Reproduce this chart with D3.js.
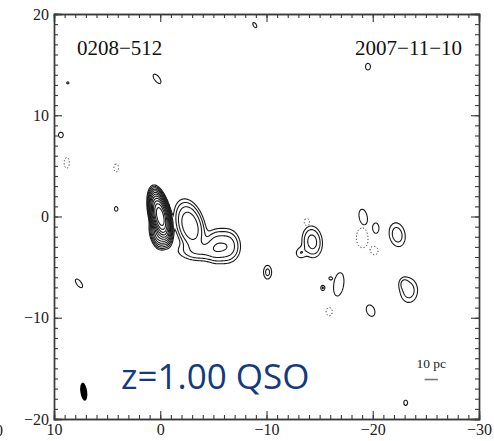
<!DOCTYPE html>
<html>
<head>
<meta charset="utf-8">
<script src="https://cdn.jsdelivr.net/npm/d3@7"></script>
<style>
  body { margin: 0; background: #fff; }
  svg { display: block; }
</style>
</head>
<body>
<svg id="chart" width="494" height="441"></svg>
<script>
// relative RA / Dec (mas), east to the left
const xDomain = [10, -30];
const yDomain = [20, -20];
const xTickLabels = [10, 0, -10, -20, -30];
const yTickLabels = [20, 10, 0, -10, -20];

// gaussian components: offset x, offset y, peak (in units of lowest contour),
// sigma along major, sigma along minor, position angle (deg, north through east)
const compX    = [0.0, 0.15, -2.8, -3.9, -5.3, -6.4, -14.3, -13.2, -22.3, -19.1, -20.3, -10.1, -16.0, -15.3, -16.8, -19.8, -23.4, -22.9, -23.1, -8.9, -19.55, 0.3, 8.7, 9.35, 4.15, 7.65];
const compY    = [0.0, -1.6, -0.9, -3.4, -2.9, -2.9, -2.5, -3.6, -1.8, -0.05, -1.15, -5.5, -6.1, -7.05, -6.7, -9.3, -7.3, -6.6, -18.4, 18.9, 14.8, 13.6, 13.2, 8.05, 0.75, -6.6];
const compPeak = [4000, 60, 16, 4, 6, 6, 5.5, 1.8, 3, 1.6, 1.5, 2.5, 1.2, 2.2, 1.6, 1.6, 3, 1.6, 1.4, 1.3, 1.4, 1.5, 1.3, 1.5, 1.4, 1.5];
const compMaj  = [0.78, 0.6, 1.15, 1.3, 0.85, 0.85, 0.85, 0.4, 0.8, 0.8, 0.55, 0.5, 0.15, 0.2, 1.2, 0.6, 0.8, 0.4, 0.32, 0.4, 0.4, 0.6, 0.15, 0.3, 0.28, 0.55];
const compMin  = [0.27, 0.3, 0.6, 0.55, 0.6, 0.6, 0.52, 0.35, 0.5, 0.39, 0.31, 0.28, 0.15, 0.15, 0.48, 0.39, 0.55, 0.3, 0.22, 0.2, 0.28, 0.27, 0.15, 0.25, 0.2, 0.25];
const compPA   = [12, 10, 15, 90, 0, 0, 5, 0, 10, 10, 0, 0, 0, 0, -8, 20, 0, 0, 0, 30, 0, 35, 0, 0, 0, 35];

// negative (dotted) features
const negX    = [-13.8, -19.0, -20.2, -15.9, 8.8, 4.15];
const negY    = [-0.55, -2.1, -3.4, -9.4, 5.3, 4.8];
const negPeak = [1.4, 1.6, 1.3, 1.4, 1.4, 1.3];
const negMaj  = [0.45, 1.0, 0.5, 0.5, 0.65, 0.55];
const negMin  = [0.3, 0.56, 0.4, 0.35, 0.3, 0.3];
const negPA   = [0, 0, 0, 0, 0, 0];

// contour levels, factor 2 apart
const levels = [1, 2, 4, 8, 16, 32, 64, 128, 256, 512, 1024, 2048, 4096];
const negLevels = [1];

// restoring beam (half axes, mas)
const beamX = [7.2], beamY = [-17.3], beamMaj = [0.9], beamMin = [0.32], beamPA = [8];

// 10 pc scale bar
const barX = [-25.5], barY = [-16.1], barLen = [1.25];

const width = 494, height = 441;
const margin = { top: 14, right: 15, bottom: 22, left: 54 };

const svg = d3.select('#chart');
const x = d3.scaleLinear().domain(xDomain).range([margin.left, width - margin.right]);
const y = d3.scaleLinear().domain(yDomain).range([margin.top, height - margin.bottom]);

// build the brightness grid
const step = 0.08;
const gx0 = -30.5, gy0 = -20.5;
const nx = Math.round(41 / step) + 1, ny = Math.round(41 / step) + 1;

function makeGrid(cx, cy, pk, smaj, smin, pa) {
    const grid = new Float64Array(nx * ny);
    cx.forEach((x0, k) => {
        const a = pa[k] * Math.PI / 180;
        const ux = Math.sin(a), uy = Math.cos(a);
        const r = 5 * Math.max(smaj[k], smin[k]);
        const i0 = Math.max(0, Math.floor((x0 - r - gx0) / step));
        const i1 = Math.min(nx - 1, Math.ceil((x0 + r - gx0) / step));
        const j0 = Math.max(0, Math.floor((cy[k] - r - gy0) / step));
        const j1 = Math.min(ny - 1, Math.ceil((cy[k] + r - gy0) / step));
        for (let j = j0; j <= j1; j++) {
            const dy = gy0 + j * step - cy[k];
            for (let i = i0; i <= i1; i++) {
                const dx = gx0 + i * step - x0;
                const p = dx * ux + dy * uy;
                const q = -dx * uy + dy * ux;
                grid[j * nx + i] += pk[k] * Math.exp(-0.5 * (p * p / (smaj[k] * smaj[k]) + q * q / (smin[k] * smin[k])));
            }
        }
    });
    return grid;
}

const posGrid = makeGrid(compX, compY, compPeak, compMaj, compMin, compPA);
const negGrid = makeGrid(negX, negY, negPeak, negMaj, negMin, negPA);

const toPixels = d3.geoTransform({
    point: function (gx, gy) {
        this.stream.point(x(gx0 + (gx - 0.5) * step), y(gy0 + (gy - 0.5) * step));
    }
});
const path = d3.geoPath(toPixels);

const frameLeft = x(xDomain[0]), frameRight = x(xDomain[1]);
const frameTop = y(yDomain[0]), frameBottom = y(yDomain[1]);

svg.append('clipPath').attr('id', 'frame')
    .append('rect')
    .attr('x', frameLeft).attr('y', frameTop)
    .attr('width', frameRight - frameLeft)
    .attr('height', frameBottom - frameTop);

const plot = svg.append('g').attr('clip-path', 'url(#frame)');

plot.selectAll('path.pos')
    .data(d3.contours().size([nx, ny]).thresholds(levels)(posGrid))
    .enter().append('path')
    .attr('class', 'pos')
    .attr('d', path)
    .attr('fill', 'none')
    .attr('stroke', '#1a1a1a')
    .attr('stroke-width', 1.1);

plot.selectAll('path.neg')
    .data(d3.contours().size([nx, ny]).thresholds(negLevels)(negGrid))
    .enter().append('path')
    .attr('class', 'neg')
    .attr('d', path)
    .attr('fill', 'none')
    .attr('stroke', '#333')
    .attr('stroke-width', 1)
    .attr('stroke-dasharray', '1.2,2');

// beam
plot.selectAll('ellipse.beam')
    .data(beamX)
    .enter().append('ellipse')
    .attr('class', 'beam')
    .attr('cx', d => x(d))
    .attr('cy', (d, i) => y(beamY[i]))
    .attr('rx', (d, i) => Math.abs(x(beamMin[i]) - x(0)))
    .attr('ry', (d, i) => Math.abs(y(beamMaj[i]) - y(0)))
    .attr('transform', (d, i) => `rotate(${-beamPA[i]},${x(d)},${y(beamY[i])})`)
    .attr('fill', '#000');

// axes: ticks pointing inward on all four sides
const minorX = d3.range(-30, 11, 1);
const minorY = d3.range(-20, 21, 1);
const axisFont = '"Liberation Serif", "DejaVu Serif", serif';

function styleAxis(g) {
    g.select('.domain').attr('stroke', '#3a3a3a').attr('stroke-width', 1.4);
    g.selectAll('.tick line').attr('stroke', '#3a3a3a').attr('stroke-width', 1.1);
    g.selectAll('text').attr('font-family', axisFont).attr('font-size', 16).attr('fill', '#222');
}

// minor ticks
svg.append('g').attr('transform', `translate(0,${frameBottom})`)
    .call(d3.axisBottom(x).tickValues(minorX).tickSize(-4).tickFormat(''))
    .call(styleAxis);
svg.append('g').attr('transform', `translate(0,${frameTop})`)
    .call(d3.axisTop(x).tickValues(minorX).tickSize(-4).tickFormat(''))
    .call(styleAxis);
svg.append('g').attr('transform', `translate(${frameLeft},0)`)
    .call(d3.axisLeft(y).tickValues(minorY).tickSize(-4).tickFormat(''))
    .call(styleAxis);
svg.append('g').attr('transform', `translate(${frameRight},0)`)
    .call(d3.axisRight(y).tickValues(minorY).tickSize(-4).tickFormat(''))
    .call(styleAxis);

// major ticks with labels
svg.append('g').attr('transform', `translate(0,${frameBottom})`)
    .call(d3.axisBottom(x).tickValues(xTickLabels).tickSize(-8).tickPadding(5))
    .call(styleAxis);
svg.append('g').attr('transform', `translate(0,${frameTop})`)
    .call(d3.axisTop(x).tickValues(xTickLabels).tickSize(-8).tickFormat(''))
    .call(styleAxis);
svg.append('g').attr('transform', `translate(${frameLeft},0)`)
    .call(d3.axisLeft(y).tickValues(yTickLabels).tickSize(-8).tickPadding(5))
    .call(styleAxis);
svg.append('g').attr('transform', `translate(${frameRight},0)`)
    .call(d3.axisRight(y).tickValues(yTickLabels).tickSize(-8).tickFormat(''))
    .call(styleAxis);

// stray label from the neighbouring panel
svg.append('text')
    .attr('x', -1).attr('y', 436)
    .attr('text-anchor', 'middle')
    .attr('font-family', axisFont).attr('font-size', 16).attr('fill', '#222')
    .text('0');

// source name and epoch
svg.append('text')
    .attr('x', 77).attr('y', 55)
    .attr('font-family', axisFont).attr('font-size', 21).attr('fill', '#111')
    .text('0208−512');
svg.append('text')
    .attr('x', 462).attr('y', 55)
    .attr('text-anchor', 'end')
    .attr('font-family', axisFont).attr('font-size', 21).attr('fill', '#111')
    .text('2007−11−10');

// scale bar
svg.selectAll('line.bar')
    .data(barX)
    .enter().append('line')
    .attr('class', 'bar')
    .attr('x1', (d, i) => x(d + barLen[i] / 2))
    .attr('x2', (d, i) => x(d - barLen[i] / 2))
    .attr('y1', (d, i) => y(barY[i]))
    .attr('y2', (d, i) => y(barY[i]))
    .attr('stroke', '#777')
    .attr('stroke-width', 1.6);
svg.append('text')
    .attr('x', x(barX[0])).attr('y', y(barY[0]) - 12)
    .attr('text-anchor', 'middle')
    .attr('font-family', axisFont).attr('font-size', 13.5).attr('fill', '#222')
    .text('10 pc');

// redshift annotation
svg.append('text')
    .attr('x', 121).attr('y', 389)
    .attr('font-family', '"Open Sans", sans-serif').attr('font-size', 35)
    .attr('fill', '#123a7c')
    .text('z=1.00 QSO');
</script>
</body>
</html>
